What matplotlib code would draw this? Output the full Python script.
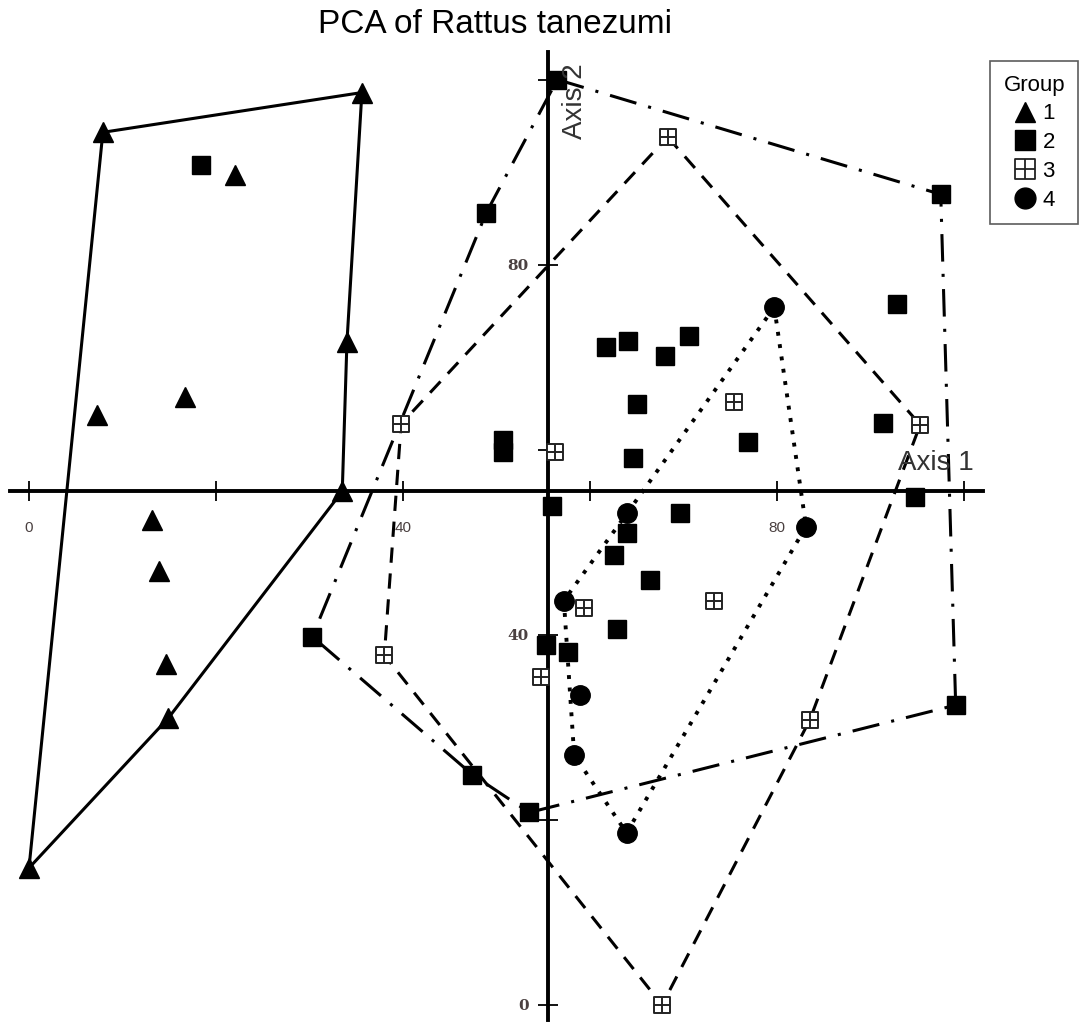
import matplotlib
matplotlib.use("Agg")
import matplotlib.pyplot as plt
from matplotlib.path import Path
from matplotlib.lines import Line2D

plt.rcParams['font.family'] = ['Liberation Sans', 'DejaVu Sans']

# group 1 (triangles)
g1_x = [7.9, 35.6, 22.0, 34.0, 16.7, 7.3, 33.5, 13.2, 13.9, 14.6, 14.9, 0.0]
g1_y = [94.3, 98.6, 89.7, 71.6, 65.7, 63.8, 55.5, 52.4, 46.9, 36.8, 31.0, 14.8]
g1_hull = [11, 0, 1, 3, 6, 10, 11]

# group 2 (filled squares)
g2_x = [56.5, 18.4, 48.9, 97.5, 92.8, 61.7, 64.1, 68.0, 70.6, 65.0, 50.7, 50.7, 64.6, 76.9,
        91.3, 94.7, 55.9, 69.6, 63.9, 62.6, 66.4, 62.9, 55.3, 57.6, 30.3, 47.4, 53.5, 99.1]
g2_y = [100.0, 90.8, 85.6, 87.6, 75.7, 71.1, 71.8, 70.1, 72.3, 64.9, 61.1, 59.8, 59.1, 60.8,
        62.9, 54.9, 53.9, 53.2, 51.0, 48.6, 45.9, 40.6, 38.9, 38.1, 39.8, 24.9, 20.8, 32.4]
g2_hull = [0, 3, 27, 26, 25, 24, 2, 0]

# group 3 (crossed squares)
g3_x = [68.3, 95.3, 75.4, 39.8, 56.3, 59.4, 73.3, 38.0, 54.7, 83.5, 67.7]
g3_y = [93.8, 62.7, 65.2, 62.8, 59.8, 42.9, 43.7, 37.8, 35.4, 30.8, 0.0]
g3_hull = [0, 1, 9, 10, 7, 3, 0]

# group 4 (circles)
g4_x = [79.7, 83.1, 64.0, 57.2, 58.9, 58.3, 63.9]
g4_y = [75.4, 51.7, 53.2, 43.7, 33.5, 27.0, 18.6]
g4_hull = [0, 1, 6, 5, 3, 2, 0]

x_ticks = [0, 20, 40, 60, 80, 100]
x_labels = ['0', '', '40', '', '80', '']
y_ticks = [0, 20, 40, 60, 80, 100]
y_labels = ['0', '', '40', '', '80', '']
origin = 55.5

# square with a cross inside
crossed = Path(
    [(-1, -1), (1, -1), (1, 1), (-1, 1), (-1, -1), (0, -1), (0, 1), (-1, 0), (1, 0)],
    [Path.MOVETO, Path.LINETO, Path.LINETO, Path.LINETO, Path.CLOSEPOLY,
     Path.MOVETO, Path.LINETO, Path.MOVETO, Path.LINETO])

fig = plt.figure(figsize=(10.81, 10.23), dpi=100)
ax = fig.add_axes([0, 0, 1, 1])
ax.set_xlim(-3.1, 112.5)
ax.set_ylim(-1.95, 108.6)

for s in ['top', 'right']:
    ax.spines[s].set_visible(False)
ax.spines['left'].set_position(('data', origin))
ax.spines['bottom'].set_position(('data', origin))
ax.spines['left'].set_bounds(-1.6, 103)
ax.spines['bottom'].set_bounds(-2, 102)
ax.spines['left'].set_linewidth(2.8)
ax.spines['bottom'].set_linewidth(2.8)

ax.set_xticks(x_ticks)
ax.set_xticklabels(x_labels)
ax.set_yticks(y_ticks)
ax.set_yticklabels(y_labels)
ax.tick_params(axis='both', direction='inout', length=14, width=1.3, labelsize=11,
               labelcolor='#4a4040')
ax.tick_params(axis='x', pad=14)
ax.tick_params(axis='y', pad=7)
for lab in ax.get_yticklabels():
    lab.set_family('DejaVu Serif')
    lab.set_fontweight('bold')
    lab.set_fontsize(11)

# hulls
ax.plot([g1_x[i] for i in g1_hull], [g1_y[i] for i in g1_hull], color='black', lw=2.2,
        zorder=2)
ax.plot([g2_x[i] for i in g2_hull], [g2_y[i] for i in g2_hull], color='black', lw=2.2,
        linestyle=(0, (9, 4, 1, 4)), zorder=2)
ax.plot([g3_x[i] for i in g3_hull], [g3_y[i] for i in g3_hull], color='black', lw=2.2,
        linestyle=(0, (5, 3.5)), zorder=2)
ax.plot([g4_x[i] for i in g4_hull], [g4_y[i] for i in g4_hull], color='black', lw=2.8,
        linestyle=(0, (1, 2.2)), zorder=2)

# points
ax.plot(g1_x, g1_y, '^', color='black', ms=14, ls='none', zorder=3)
ax.plot(g2_x, g2_y, 's', color='black', ms=13.5, ls='none', zorder=3)
ax.plot(g3_x, g3_y, marker=crossed, mfc='white', mec='#222222', mew=1.4, ms=12,
        ls='none', zorder=3)
ax.plot(g4_x, g4_y, 'o', color='black', ms=14, ls='none', zorder=3)

ax.text(97.0, 58.6, 'Axis 1', fontsize=20, color='#333333', ha='center', va='center')
ax.text(58.4, 97.7, 'Axis 2', fontsize=20, color='#333333', ha='center', va='center',
        rotation=90)

fig.text(0.458, 0.9765, 'PCA of Rattus tanezumi', fontsize=24, ha='center', va='center')

handles = [
    Line2D([], [], marker='^', color='black', ms=15, ls='none'),
    Line2D([], [], marker='s', color='black', ms=14, ls='none'),
    Line2D([], [], marker=crossed, mfc='white', mec='#222222', mew=1.3, ms=14, ls='none'),
    Line2D([], [], marker='o', color='black', ms=15, ls='none'),
]
leg = fig.legend(handles, ['1', '2', '3', '4'], title='Group', loc='upper left',
                 bbox_to_anchor=(0.916, 0.94), fontsize=16, title_fontsize=16,
                 frameon=True, fancybox=False, edgecolor='#333333', handlelength=1.0,
                 handletextpad=0.3, labelspacing=0.35, borderpad=0.6, borderaxespad=0)
leg.get_frame().set_linewidth(1.2)

fig.savefig('out.png', dpi=100)
